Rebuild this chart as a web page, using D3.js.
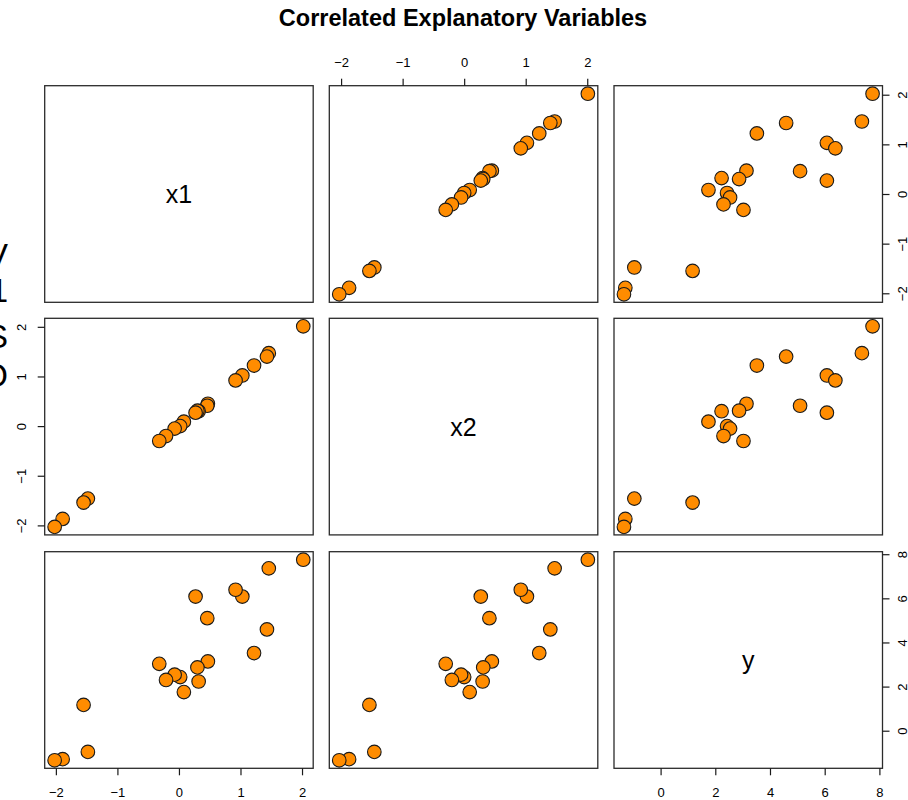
<!DOCTYPE html>
<html>
<head>
<meta charset="utf-8">
<script src="https://cdn.jsdelivr.net/npm/d3@7/dist/d3.min.js"></script>
<style>
  html, body { margin: 0; padding: 0; background: #fff; }
  svg { display: block; font-family: "Liberation Sans", Arial, Helvetica, sans-serif; }
</style>
</head>
<body>
<svg id="chart" width="908" height="800"></svg>
<script>
// ---- data ----
const varNames = ["x1", "x2", "y"];
const x1 = [2.02, 1.46, 1.43, 1.22, 1.03, 0.92, 0.47, 0.46, 0.32, 0.30, 0.27, 0.08, 0.02, -0.07, -0.21, -0.32, -1.48, -1.55, -1.89, -2.02];
const x2 = [2.01, 1.47, 1.40, 1.22, 1.02, 0.92, 0.45, 0.41, 0.30, 0.31, 0.27, 0.09, 0.00, -0.05, -0.20, -0.30, -1.46, -1.54, -1.87, -2.03];
const yv = [7.75, 7.36, 4.59, 3.52, 6.08, 6.39, 3.14, 5.10, 2.23, 2.87, 6.08, 1.75, 2.43, 2.54, 2.30, 3.03, -0.96, 1.17, -1.29, -1.34];
const ticksX1 = [-2, -1, 0, 1, 2];
const ticksX2 = [-2, -1, 0, 1, 2];
const ticksY = [0, 2, 4, 6, 8];
const titleText = "Correlated Explanatory Variables";
const edgeLetters = ["V", "1", "S", "O"];

const series = [x1, x2, yv];
const tickSets = [ticksX1, ticksX2, ticksY];

// ---- layout ----
const svg = d3.select("#chart");
const colLeft = [44.7, 329.3, 614];
const rowTop = [85.7, 318.3, 551.7];
const pw = 268.5, ph = 216.6;
const fmt = d3.format("d");

function ext(v) {
  const e = d3.extent(v);
  const pad = (e[1] - e[0]) * 0.04;
  return [e[0] - pad, e[1] + pad];
}
const xScales = series.map((v, i) => d3.scaleLinear().domain(ext(v)).range([colLeft[i], colLeft[i] + pw]));
const yScales = series.map((v, i) => d3.scaleLinear().domain(ext(v)).range([rowTop[i] + ph, rowTop[i]]));

// title
svg.append("text")
  .attr("x", 463).attr("y", 26)
  .attr("text-anchor", "middle")
  .attr("font-weight", "bold")
  .attr("font-size", 23.5)
  .attr("fill", "#000")
  .text(titleText);

// clipped large letters at the left edge
const letterBase = [267, 302, 348, 387];
svg.selectAll("text.edge").data(edgeLetters).join("text")
  .attr("class", "edge")
  .attr("x", 8).attr("y", (d, i) => letterBase[i])
  .attr("text-anchor", "end")
  .attr("font-size", 33)
  .attr("fill", "#000")
  .text(d => d);

// panels
for (let r = 0; r < 3; r++) {
  for (let c = 0; c < 3; c++) {
    const g = svg.append("g");
    if (r === c) {
      g.append("text")
        .attr("x", colLeft[c] + pw / 2)
        .attr("y", rowTop[r] + ph / 2 + 9)
        .attr("text-anchor", "middle")
        .attr("font-size", 25)
        .attr("fill", "#000")
        .text(varNames[r]);
    } else {
      const xs = xScales[c], ys = yScales[r];
      const pts = series[c].map((v, i) => [v, series[r][i]]);
      g.selectAll("circle").data(pts).join("circle")
        .attr("cx", d => xs(d[0]))
        .attr("cy", d => ys(d[1]))
        .attr("r", 6.8)
        .attr("fill", "#FF8C00")
        .attr("stroke", "#1a1a1a")
        .attr("stroke-width", 1.1);
    }
    g.append("rect")
      .attr("x", colLeft[c]).attr("y", rowTop[r])
      .attr("width", pw).attr("height", ph)
      .attr("fill", "none")
      .attr("stroke", "#2b2b2b")
      .attr("stroke-width", 1.3);
  }
}

function styleAxis(g) {
  g.select(".domain").remove();
  g.selectAll(".tick line").attr("stroke", "#1a1a1a").attr("stroke-width", 1.2);
  g.selectAll(".tick text").attr("font-size", 13).attr("fill", "#000")
    .attr("font-family", '"Liberation Sans", Arial, sans-serif');
}

// bottom axes: col 0 and col 2 at row 2 bottom
[0, 2].forEach(c => {
  const g = svg.append("g")
    .attr("transform", `translate(0,${rowTop[2] + ph})`)
    .call(d3.axisBottom(xScales[c]).tickValues(tickSets[c]).tickSize(7).tickPadding(12).tickFormat(fmt));
  styleAxis(g);
});
// top axis: col 1
{
  const g = svg.append("g")
    .attr("transform", `translate(0,${rowTop[0]})`)
    .call(d3.axisTop(xScales[1]).tickValues(tickSets[1]).tickSize(7).tickPadding(11.5).tickFormat(fmt));
  styleAxis(g);
}
// left axis: row 1
{
  const g = svg.append("g")
    .attr("transform", `translate(${colLeft[0]},0)`)
    .call(d3.axisLeft(yScales[1]).tickValues(tickSets[1]).tickSize(7).tickFormat(fmt));
  styleAxis(g);
  g.selectAll(".tick text")
    .attr("x", null).attr("dy", null)
    .attr("text-anchor", "middle")
    .attr("transform", "translate(-18.5,0) rotate(-90)");
}
// right axes: rows 0 and 2
[0, 2].forEach(r => {
  const g = svg.append("g")
    .attr("transform", `translate(${colLeft[2] + pw},0)`)
    .call(d3.axisRight(yScales[r]).tickValues(tickSets[r]).tickSize(7).tickFormat(fmt));
  styleAxis(g);
  g.selectAll(".tick text")
    .attr("x", null).attr("dy", null)
    .attr("text-anchor", "middle")
    .attr("transform", "translate(24.5,0) rotate(-90)");
});
</script>
</body>
</html>
